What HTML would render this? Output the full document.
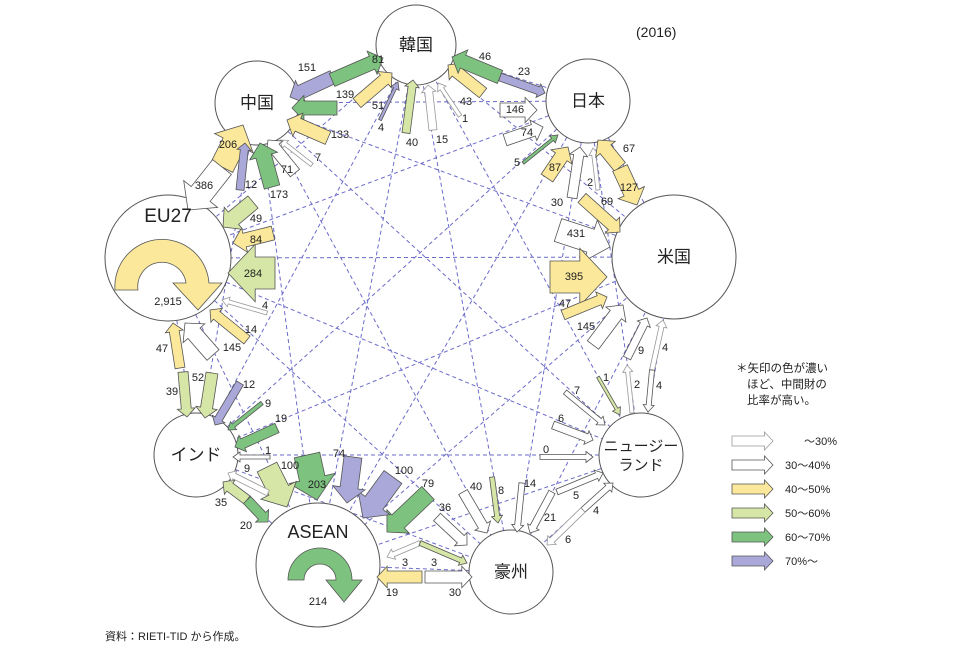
<!DOCTYPE html>
<html><head><meta charset="utf-8">
<style>
html,body{margin:0;padding:0;background:#fff;}
svg{display:block;}
text{font-family:"Liberation Sans","Noto Sans CJK JP",sans-serif;fill:#222;}
.l{font-size:11px;text-anchor:middle;dominant-baseline:middle;}
.n{font-size:17px;text-anchor:middle;dominant-baseline:middle;}
</style></head>
<body>
<svg id="s" width="974" height="659" viewBox="0 0 974 659" xmlns="http://www.w3.org/2000/svg">
<g id="dl"></g>
<g id="cir" fill="#fff" stroke="#555" stroke-width="1">
<circle cx="416" cy="45" r="40"/>
<circle cx="588" cy="101" r="42"/>
<circle cx="257" cy="103" r="42"/>
<circle cx="674" cy="257" r="62"/>
<circle cx="168" cy="258" r="63"/>
<circle cx="641" cy="455" r="42"/>
<circle cx="196" cy="455" r="42"/>
<circle cx="318" cy="565" r="62"/>
<circle cx="511" cy="572" r="42"/>
</g>
<path d="M115,290 A47,47 0 0 1 209,283 L222,283 L198,310 L173,283 L186,283 A24,24 0 0 0 138,290 Z" fill="#fbe89a" stroke="#555" stroke-width="0.8"/>
<path d="M288,580 A32,32 0 0 1 352,580 L362,580 L344,602 L326,580 L336,580 A16,16 0 0 0 304,580 Z" fill="#7dc27f" stroke="#555" stroke-width="0.8"/>
<g id="ar" stroke-width="0.8" stroke-linejoin="miter"></g>
<g>
<text class="n" x="416" y="46">韓国</text>
<text class="n" x="257" y="104">中国</text>
<text class="n" x="588" y="102">日本</text>
<text class="n" x="674" y="258">米国</text>
<text class="n" x="168" y="217" style="font-size:19px">EU27</text>
<text class="l" x="168" y="302">2,915</text>
<text class="n" x="196" y="456">インド</text>
<text class="n" x="318" y="533" style="font-size:18px">ASEAN</text>
<text class="l" x="318" y="602">214</text>
<text class="n" x="511" y="573">豪州</text>
<text class="n" x="641" y="447" style="font-size:15px">ニュージー</text>
<text class="n" x="641" y="466" style="font-size:15px">ランド</text>
<text x="636" y="37" style="font-size:14px">(2016)</text>
<text x="105" y="640" style="font-size:11px">資料：RIETI-TID から作成。</text>
<text x="736" y="372" style="font-size:11.5px">＊矢印の色が濃い</text>
<text x="747" y="388" style="font-size:11.5px">ほど、中間財の</text>
<text x="747" y="404" style="font-size:11.5px">比率が高い。</text>
<text x="837" y="445" style="font-size:11px;text-anchor:end">～30%</text>
<text x="785" y="469" style="font-size:11px">30～40%</text>
<text x="785" y="493" style="font-size:11px">40～50%</text>
<text x="785" y="517" style="font-size:11px">50～60%</text>
<text x="785" y="541" style="font-size:11px">60～70%</text>
<text x="785" y="565" style="font-size:11px">70%～</text>
</g>
<g>
<text class="l" x="307" y="68">151</text><text class="l" x="378" y="60">81</text>
<text class="l" x="345" y="95">139</text><text class="l" x="378" y="106">51</text>
<text class="l" x="340" y="135">133</text><text class="l" x="318" y="158">7</text>
<text class="l" x="381" y="128">4</text><text class="l" x="412" y="143">40</text>
<text class="l" x="442" y="140">15</text><text class="l" x="465" y="119">1</text>
<text class="l" x="466" y="102">43</text><text class="l" x="485" y="57">46</text>
<text class="l" x="524" y="72">23</text><text class="l" x="515" y="110">146</text>
<text class="l" x="527" y="133">74</text><text class="l" x="517" y="163">5</text>
<text class="l" x="555" y="168">87</text><text class="l" x="557" y="203">30</text>
<text class="l" x="590" y="183">2</text><text class="l" x="629" y="149">67</text>
<text class="l" x="629" y="188">127</text><text class="l" x="607" y="202">69</text>
<text class="l" x="576" y="234">431</text><text class="l" x="574" y="277">395</text>
<text class="l" x="565" y="304">47</text><text class="l" x="586" y="327">145</text>
<text class="l" x="641" y="351">9</text><text class="l" x="665" y="348">4</text>
<text class="l" x="637" y="385">2</text><text class="l" x="659" y="386">4</text>
<text class="l" x="606" y="378">1</text><text class="l" x="577" y="391">7</text>
<text class="l" x="561" y="419">6</text><text class="l" x="546" y="450">0</text>
<text class="l" x="576" y="496">5</text><text class="l" x="596" y="511">4</text>
<text class="l" x="568" y="540">6</text><text class="l" x="550" y="518">21</text>
<text class="l" x="530" y="484">14</text><text class="l" x="501" y="491">8</text>
<text class="l" x="476" y="487">40</text><text class="l" x="445" y="508">36</text>
<text class="l" x="405" y="563">3</text><text class="l" x="434" y="563">3</text>
<text class="l" x="392" y="593">19</text><text class="l" x="455" y="593">30</text>
<text class="l" x="428" y="484">79</text><text class="l" x="404" y="471">100</text>
<text class="l" x="339" y="454">74</text><text class="l" x="317" y="485">203</text>
<text class="l" x="290" y="466">100</text><text class="l" x="247" y="469">9</text>
<text class="l" x="268" y="451">1</text><text class="l" x="221" y="503">35</text>
<text class="l" x="246" y="526">20</text><text class="l" x="281" y="419">19</text>
<text class="l" x="268" y="404">9</text><text class="l" x="249" y="385">12</text>
<text class="l" x="198" y="378">52</text><text class="l" x="172" y="392">39</text>
<text class="l" x="162" y="349">47</text><text class="l" x="232" y="348">145</text>
<text class="l" x="251" y="330">14</text><text class="l" x="265" y="306">4</text>
<text class="l" x="253" y="274">284</text><text class="l" x="256" y="240">84</text>
<text class="l" x="256" y="219">49</text><text class="l" x="204" y="186">386</text>
<text class="l" x="228" y="145">206</text><text class="l" x="251" y="185">12</text>
<text class="l" x="279" y="195">173</text><text class="l" x="287" y="170">71</text>
</g>
</svg>
<script>
(function(){
var NS="http://www.w3.org/2000/svg";
var nodes=[[416,45],[588,101],[257,103],[674,257],[168,258],[641,455],[196,455],[318,565],[511,572]];
var dl=document.getElementById("dl");
for(var i=0;i<nodes.length;i++)for(var j=i+1;j<nodes.length;j++){
 var l=document.createElementNS(NS,"line");
 l.setAttribute("x1",nodes[i][0]);l.setAttribute("y1",nodes[i][1]);
 l.setAttribute("x2",nodes[j][0]);l.setAttribute("y2",nodes[j][1]);
 l.setAttribute("stroke","#6b6bc9");l.setAttribute("stroke-width","1");
 l.setAttribute("stroke-dasharray","4 3");dl.appendChild(l);}
var C={W:"#fff",V:"#fff",Y:"#fbe89a",L:"#d5e6a6",G:"#7dc27f",P:"#aaa8d8"};
var A=[
[333,77,290,97,14,"P"],[332,80,383,58,14,"G"],[337,108,292,108,14,"G"],[357,103,392,73,12,"Y"],
[328,138,287,120,14,"Y"],[312,165,280,140,4,"V"],[295,173,268,140,12,"W"],[380,120,398,82,3,"P"],
[406,133,413,80,8,"L"],[433,130,428,85,8,"V"],[460,116,438,83,4,"V"],[483,93,448,65,12,"Y"],
[500,77,452,57,14,"G"],[500,77,545,93,8,"P"],[500,110,537,110,14,"W"],[505,140,543,127,12,"W"],
[523,163,558,135,3,"G"],[547,178,568,147,14,"Y"],[572,198,580,147,10,"W"],[598,190,593,148,4,"V"],
[620,167,598,140,14,"Y"],[620,168,637,205,16,"Y"],[582,198,620,232,12,"Y"],[558,230,610,247,24,"W"],
[550,277,607,277,32,"Y"],[563,315,607,297,10,"Y"],[593,345,623,305,14,"W"],[627,358,647,318,8,"W"],
[652,370,663,320,5,"V"],[652,370,648,412,5,"W"],[632,413,627,365,4,"V"],[598,377,620,415,3,"L"],
[565,392,605,425,5,"W"],[553,425,593,440,8,"W"],[540,457,593,457,5,"W"],[557,492,603,473,6,"W"],
[583,510,613,483,6,"W"],[583,510,547,545,6,"V"],[552,492,530,533,7,"W"],[522,483,517,532,6,"W"],
[492,477,498,523,5,"L"],[463,492,487,533,10,"W"],[437,517,467,545,10,"W"],[420,543,387,557,5,"V"],
[420,543,467,563,5,"L"],[422,577,377,577,12,"Y"],[425,577,472,577,12,"W"],[428,493,387,532,18,"G"],
[393,477,363,518,22,"P"],[353,457,347,503,18,"P"],[307,455,317,500,26,"G"],[267,467,287,507,22,"L"],
[247,500,223,482,10,"L"],[247,500,268,522,10,"G"],[268,493,228,473,6,"V"],[270,457,233,457,4,"W"],
[277,428,235,447,10,"G"],[262,403,228,430,4,"G"],[240,383,215,425,8,"P"],[212,373,205,418,12,"L"],
[180,368,173,323,10,"Y"],[183,372,187,417,10,"L"],[213,355,185,323,16,"W"],[247,340,210,310,10,"Y"],
[267,313,222,300,4,"V"],[275,273,228,273,32,"L"],[273,233,233,243,14,"Y"],[253,202,223,227,16,"L"],
[222,167,243,125,24,"Y"],[222,167,188,210,24,"W"],[240,190,245,143,8,"P"],[272,187,260,143,16,"G"],
[732,441,773,441,10,"V"],[732,465,773,465,10,"W"],[732,489,773,489,10,"Y"],[732,513,773,513,10,"L"],
[732,537,773,537,10,"G"],[732,561,773,561,10,"P"]
];
var g=document.getElementById("ar");
A.forEach(function(a){
 var x1=a[0],y1=a[1],x2=a[2],y2=a[3],w=a[4];
 var dx=x2-x1,dy=y2-y1,L=Math.sqrt(dx*dx+dy*dy);var ux=dx/L,uy=dy/L,px=-uy,py=ux;
 var hw=Math.max(w*1.8,w+6),hl=Math.max(w*0.85,7);
 if(hl>L*0.6)hl=L*0.6;
 var bx=x2-ux*hl,by=y2-uy*hl;
 function p(x,y,o){return (x+px*o).toFixed(1)+","+(y+py*o).toFixed(1);}
 var pts=[p(x1,y1,w/2),p(bx,by,w/2),p(bx,by,hw/2),x2+","+y2,p(bx,by,-hw/2),p(bx,by,-w/2),p(x1,y1,-w/2)].join(" ");
 var pg=document.createElementNS(NS,"polygon");
 pg.setAttribute("points",pts);pg.setAttribute("fill",C[a[5]]);
 pg.setAttribute("stroke",a[5]=="V"?"#999":"#555");
 g.appendChild(pg);
});
})();
</script>
</body></html>
